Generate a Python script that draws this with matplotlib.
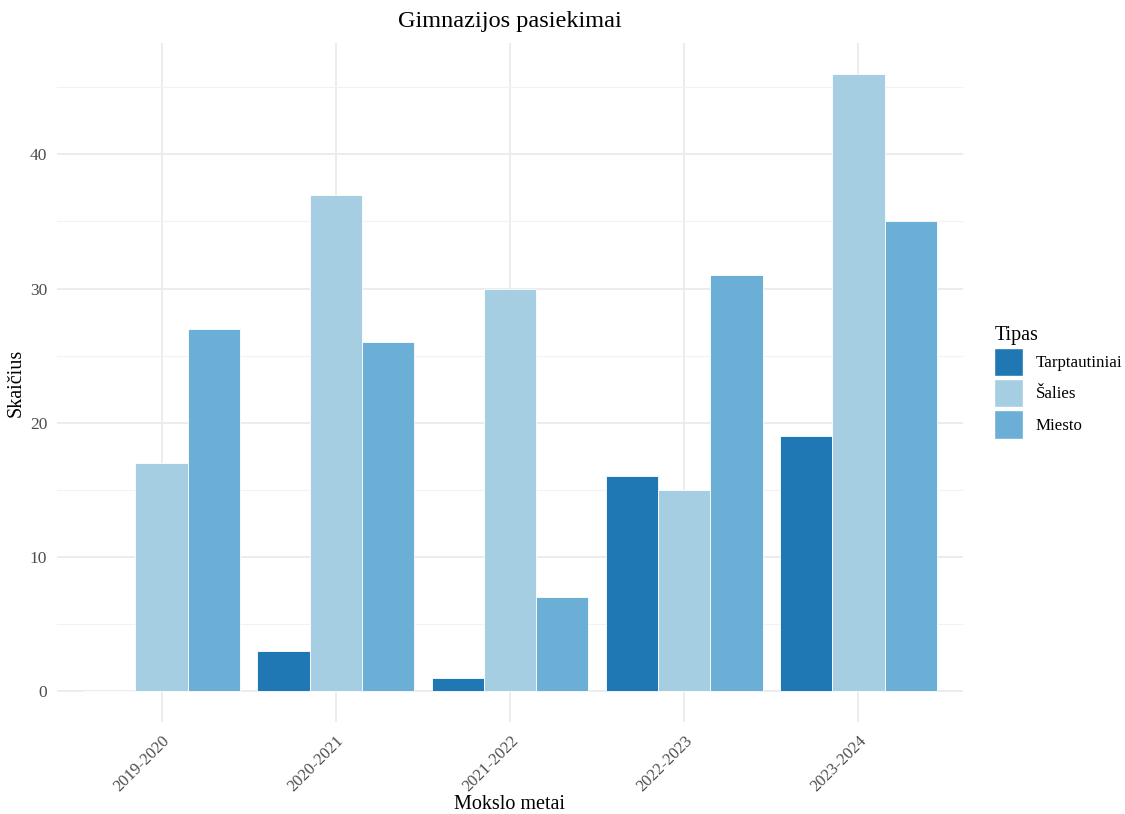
import matplotlib.pyplot as plt
import numpy as np
from matplotlib.patches import Patch

# 字体配置
plt.rcParams['font.family'] = ['Liberation Serif', 'DejaVu Serif']

# 数据
years = ['2019-2020', '2020-2021', '2021-2022', '2022-2023', '2023-2024']
types = ['Tarptautiniai', 'Šalies', 'Miesto']
tarptautiniai = [0, 3, 1, 16, 19]
salies = [17, 37, 30, 15, 46]
miesto = [27, 26, 7, 31, 35]
colors = ['#1F78B4', '#A6CEE3', '#6BAED6']

series = [tarptautiniai, salies, miesto]

fig = plt.figure(figsize=(11.25, 8.14), dpi=100)
ax = fig.add_axes([57 / 1125, 1 - 722 / 814, 906 / 1125, 679 / 814])

x = np.arange(1, len(years) + 1)
w = 0.3
for i, (vals, c) in enumerate(zip(series, colors)):
    ax.bar(x + (i - 1) * w, vals, width=w, color=c, edgecolor='white',
           linewidth=0.6, zorder=3)

# 坐标范围（ggplot 风格扩展）
ymax = max(max(s) for s in series)
ax.set_xlim(0.4, len(years) + 0.6)
ax.set_ylim(-0.05 * ymax, ymax * 1.05)

# 网格
ax.set_yticks([0, 10, 20, 30, 40])
ax.set_yticks([5, 15, 25, 35, 45], minor=True)
ax.set_xticks(x)
ax.set_xticklabels(years, rotation=45, ha='right', rotation_mode='anchor')
ax.grid(True, which='major', color='#EBEBEB', linewidth=1.3, zorder=0)
ax.grid(True, which='minor', axis='y', color='#F2F2F2', linewidth=0.8, zorder=0)
ax.tick_params(which='both', length=0, labelcolor='#4D4D4D')
ax.tick_params(axis='y', labelsize=12.5, pad=7)
ax.tick_params(axis='x', labelsize=12, pad=8)
for s in ax.spines.values():
    s.set_visible(False)

ax.set_xlabel('Mokslo metai', fontsize=14.5, labelpad=0)
ax.set_ylabel('Skaičius', fontsize=14.5, labelpad=3)
fig.text(510 / 1125, 1 - 22 / 814, 'Gimnazijos pasiekimai', ha='center', va='center', fontsize=17.5)

# 图例
handles = [Patch(facecolor=c, edgecolor='white') for c in colors]
leg = fig.legend(handles, types, title='Tipas', loc='upper left',
                 bbox_to_anchor=(979 / 1125, 1 - 311 / 814), frameon=False,
                 fontsize=12.2, title_fontsize=14.5, handlelength=1.69, handleheight=2.215,
                 labelspacing=0.15, handletextpad=0.75)
leg._legend_box.align = 'left'

plt.savefig('out.png', dpi=100)
